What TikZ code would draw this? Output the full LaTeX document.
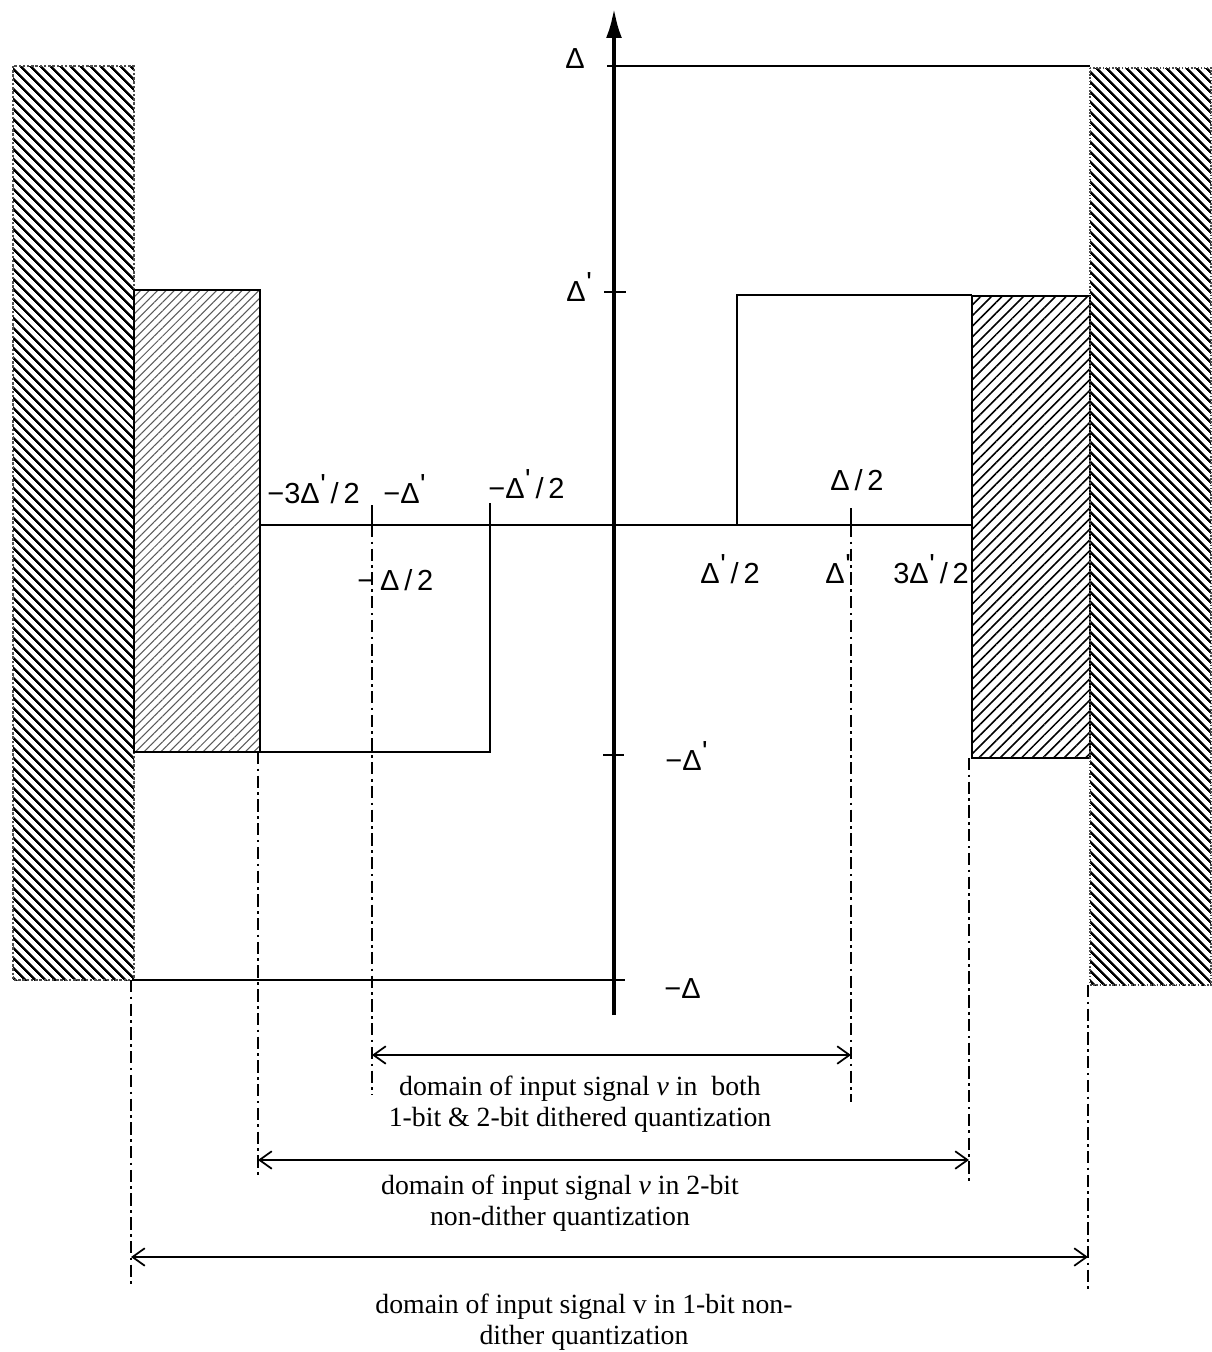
\documentclass[tikz,border=0pt]{standalone}
\usepackage{fontspec}
\setmainfont{Liberation Serif}
\newfontfamily\lblfont{Liberation Sans}
\usetikzlibrary{patterns.meta}
\usetikzlibrary{arrows.meta}
\newcommand{\dpr}{Δ\kern0.02em\raisebox{0.3em}{'}}
\tikzstyle{curve} = [draw, line width=1.5pt]
\tikzstyle{axis} = [draw, line width=2.3pt, -{Latex[length=17pt,width=9pt]}]
\tikzstyle{guide} = [draw, line width=1pt,
    dash pattern=on 7pt off 2.5pt on 1.5pt off 2.5pt]
\tikzstyle{span} = [draw, line width=1pt,
    {Straight Barb[length=7pt,width=10pt]}-{Straight Barb[length=7pt,width=10pt]}]
\tikzstyle{lbl} = [font=\lblfont\fontsize{16.5}{18}\selectfont, inner sep=0pt,
    anchor=base west]
\tikzstyle{caption} = [font=\fontsize{15.8}{17.5}\selectfont, align=center,
    inner sep=0pt]
\tikzstyle{heavyhatch} = [pattern={Lines[angle=-45,distance=4pt,line width=1.4pt]},
    draw=black!70, densely dotted, line width=0.8pt]
\tikzstyle{lighthatch} = [pattern={Lines[angle=45,distance=3.4pt,line width=0.6pt]},
    pattern color=black!65, draw, line width=1.3pt]
\tikzstyle{midhatch} = [pattern={Lines[angle=45,distance=4.3pt,line width=0.9pt]},
    draw, line width=1.3pt]
\tikzstyle{tick} = [draw, line width=1.2pt]

\begin{document}
\begin{tikzpicture}[x=0.02cm, y=-0.02cm]
  \useasboundingbox (0,0) rectangle (1211,1352);

  % Hatched regions
  \path [heavyhatch] (13,66) rectangle (134,980);
  \path [lighthatch] (134,290) rectangle (260,752);
  \path [midhatch] (972,296) rectangle (1090,758);
  \path [heavyhatch] (1090,68) rectangle (1211,985);

  % Key points
  \coordinate (o) at (614,525);
  \coordinate (bot) at (614,1015);
  \coordinate (top) at (614,8);
  \coordinate (lmid) at (260,525);
  \coordinate (rmid) at (972,525);

  % Vertical axis and ticks
  \path [axis] (bot) -- (top);
  \path [tick] (604,292) -- (626,292);
  \path [tick] (603,755) -- (624,755);

  % Staircase
  \path [curve] (607,66) -- (1090,66);
  \path [curve] (lmid) -- (rmid);
  \path [curve] (737,525) -- (737,295) -- (972,295);
  \path [curve] (490,503) -- (490,752) -- (260,752);
  \path [curve] (132,980) -- (625,980);
  \path [tick] (372,505) -- (372,525);
  \path [tick] (851,508) -- (851,525);

  % Guides
  \coordinate (g1a) at (372,525);  \coordinate (g1b) at (372,1095);
  \coordinate (g2a) at (851,525);  \coordinate (g2b) at (851,1102);
  \coordinate (g3a) at (258,752);  \coordinate (g3b) at (258,1178);
  \coordinate (g4a) at (969,758);  \coordinate (g4b) at (969,1183);
  \coordinate (g5a) at (131,980);  \coordinate (g5b) at (131,1287);
  \coordinate (g6a) at (1088,985); \coordinate (g6b) at (1088,1290);
  \path [guide] (g1a) -- (g1b);
  \path [guide] (g2a) -- (g2b);
  \path [guide] (g3a) -- (g3b);
  \path [guide] (g4a) -- (g4b);
  \path [guide] (g5a) -- (g5b);
  \path [guide] (g6a) -- (g6b);

  % Domains
  \path [span] (g1a |- 0,1055) -- (g2a |- 0,1055);
  \path [span] (g3a |- 0,1160) -- (g4a |- 0,1160);
  \path [span] (g5a |- 0,1257) -- (g6a |- 0,1257);

  % Axis labels
  \node [lbl] (dtop) at (565,68) {Δ};
  \node [lbl] (dp) at (566,301) {\dpr};
  \node [lbl] (mdp) at (665,770) {−\dpr};
  \node [lbl] (md) at (664,998) {−Δ};

  % Level labels
  \node [lbl] (l1) at (267,503) {−3\dpr\,/\,2};
  \node [lbl] (l2) at (383,503) {−\dpr};
  \node [lbl] (l3) at (488,498) {−\dpr\,/\,2};
  \node [lbl] (l4) at (357,590) {−\hspace{0.2em}Δ\,/\,2};
  \node [lbl] (l5) at (830,490) {Δ\,/\,2};
  \node [lbl] (l6) at (700,583) {\dpr\,/\,2};
  \node [lbl] (l7) at (825,583) {\dpr};
  \node [lbl] (l8) at (893,583) {3\dpr\,/\,2};

  % Captions
  \node [caption] (c1) at (580,1104)
    {domain of input signal \textit{v} in\ \ both\\1-bit \& 2-bit dithered quantization};
  \node [caption] (c2) at (560,1203)
    {domain of input signal \textit{v} in 2-bit\\non-dither quantization};
  \node [caption] (c3) at (584,1322)
    {domain of input signal v in 1-bit non-\\dither quantization};
\end{tikzpicture}
\end{document}
